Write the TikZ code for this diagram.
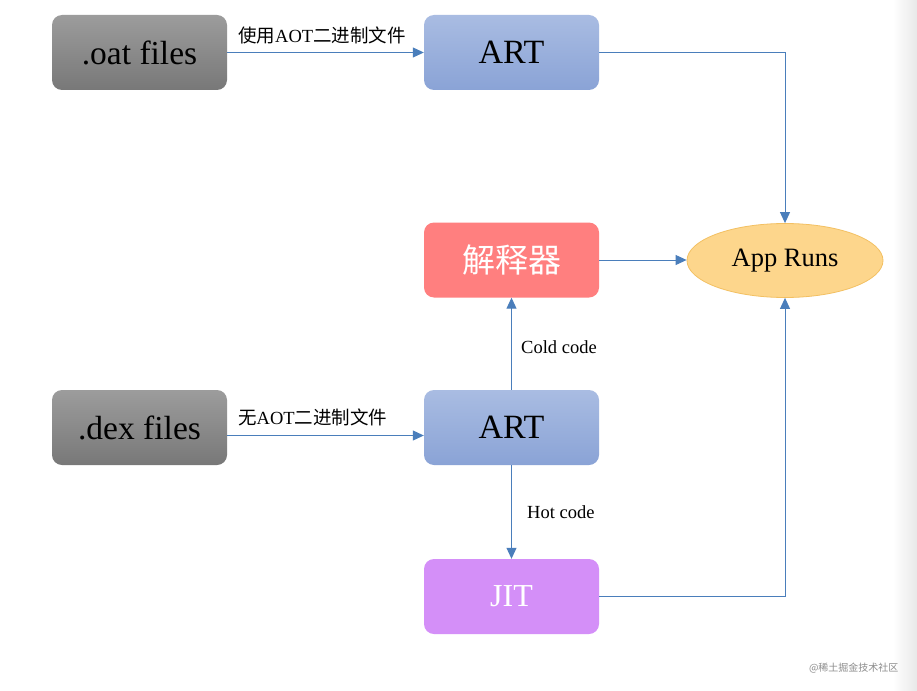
\documentclass[tikz,border=0pt]{standalone}
\usepackage{fontspec}
\setmainfont{Liberation Serif}
\newfontfamily\cjk{Noto Sans CJK SC}
\usetikzlibrary{arrows.meta,shapes.geometric}
\definecolor{arrowblue}{HTML}{4A7EBB}
\definecolor{grayTop}{HTML}{9C9C9C}
\definecolor{grayBot}{HTML}{787878}
\definecolor{blueTop}{HTML}{A9BCE2}
\definecolor{blueBot}{HTML}{8AA3D6}
\definecolor{redbox}{HTML}{FF7F7F}
\definecolor{purplebox}{HTML}{D48FF8}
\definecolor{ellfill}{HTML}{FDD68C}
\definecolor{elldraw}{HTML}{F3C062}
\tikzset{
  x=1pt, y=-1pt,
  boxbase/.style={rounded corners=10pt, minimum width=175pt, minimum height=75pt, inner sep=0pt},
  graybox/.style={boxbase, top color=grayTop, bottom color=grayBot, font=\fontsize{33.5}{38}\selectfont, text=black},
  bluebox/.style={boxbase, top color=blueTop, bottom color=blueBot, font=\fontsize{34}{38}\selectfont, text=black},
  redstyle/.style={boxbase, fill=redbox, font=\cjk\fontsize{33}{37}\selectfont, text=white},
  purplestyle/.style={boxbase, fill=purplebox, font=\fontsize{32}{36}\selectfont, text=white},
  ellstyle/.style={ellipse, fill=ellfill, draw=elldraw, line width=0.8pt, minimum width=196pt, minimum height=74pt, inner sep=0pt, font=\fontsize{26.5}{30}\selectfont},
  conn/.style={draw=arrowblue, line width=1pt, -{Triangle[length=11pt,width=10pt]}},
  lbl/.style={font=\fontsize{18.5}{21}\selectfont, text=black, inner sep=0pt},
}
\begin{document}
\begin{tikzpicture}
\useasboundingbox (0,0) rectangle (917,690);
\fill[white] (0,0) rectangle (917,690);
\shade[left color=white, right color=black!9] (893,0) rectangle (917,690);

\node[graybox] (oat) at (139.5,52.5) {.oat files};
\node[bluebox] (art1) at (511.5,52.5) {ART};
\node[redstyle] (interp) at (511.5,260) {解释器};
\node[ellstyle] (app) at (785,260.5) {App Runs};
\node[graybox] (dex) at (139.5,427.5) {.dex files};
\node[bluebox] (art2) at (511.5,427.5) {ART};
\node[purplestyle] (jit) at (511.5,596.5) {JIT};

\draw[conn] (oat.east) -- (art1.west);
\node[lbl, anchor=west] (lbl1) at (238,35) {{\cjk 使用}AOT{\cjk 二进制文件}};
\draw[conn] (art1.east) -| (app.north);
\draw[conn] (interp.east) -- (interp.east -| app.west);
\draw[conn] ([yshift=-8pt]dex.east) -- ([yshift=-8pt]art2.west);
\node[lbl, anchor=west] (lbl2) at (238,417) {{\cjk 无}AOT{\cjk 二进制文件}};
\draw[conn] (art2.north) -- (interp.south);
\node[lbl, anchor=west] (lbl3) at (521,347) {Cold code};
\draw[conn] (art2.south) -- (jit.north);
\node[lbl, anchor=west] (lbl4) at (527,512) {Hot code};
\draw[conn] (jit.east) -| (app.south);

\node[font=\cjk\fontsize{10}{12}\selectfont, text=black!45, anchor=east] (wm) at (902,668) {@稀土掘金技术社区};
\end{tikzpicture}
\end{document}
